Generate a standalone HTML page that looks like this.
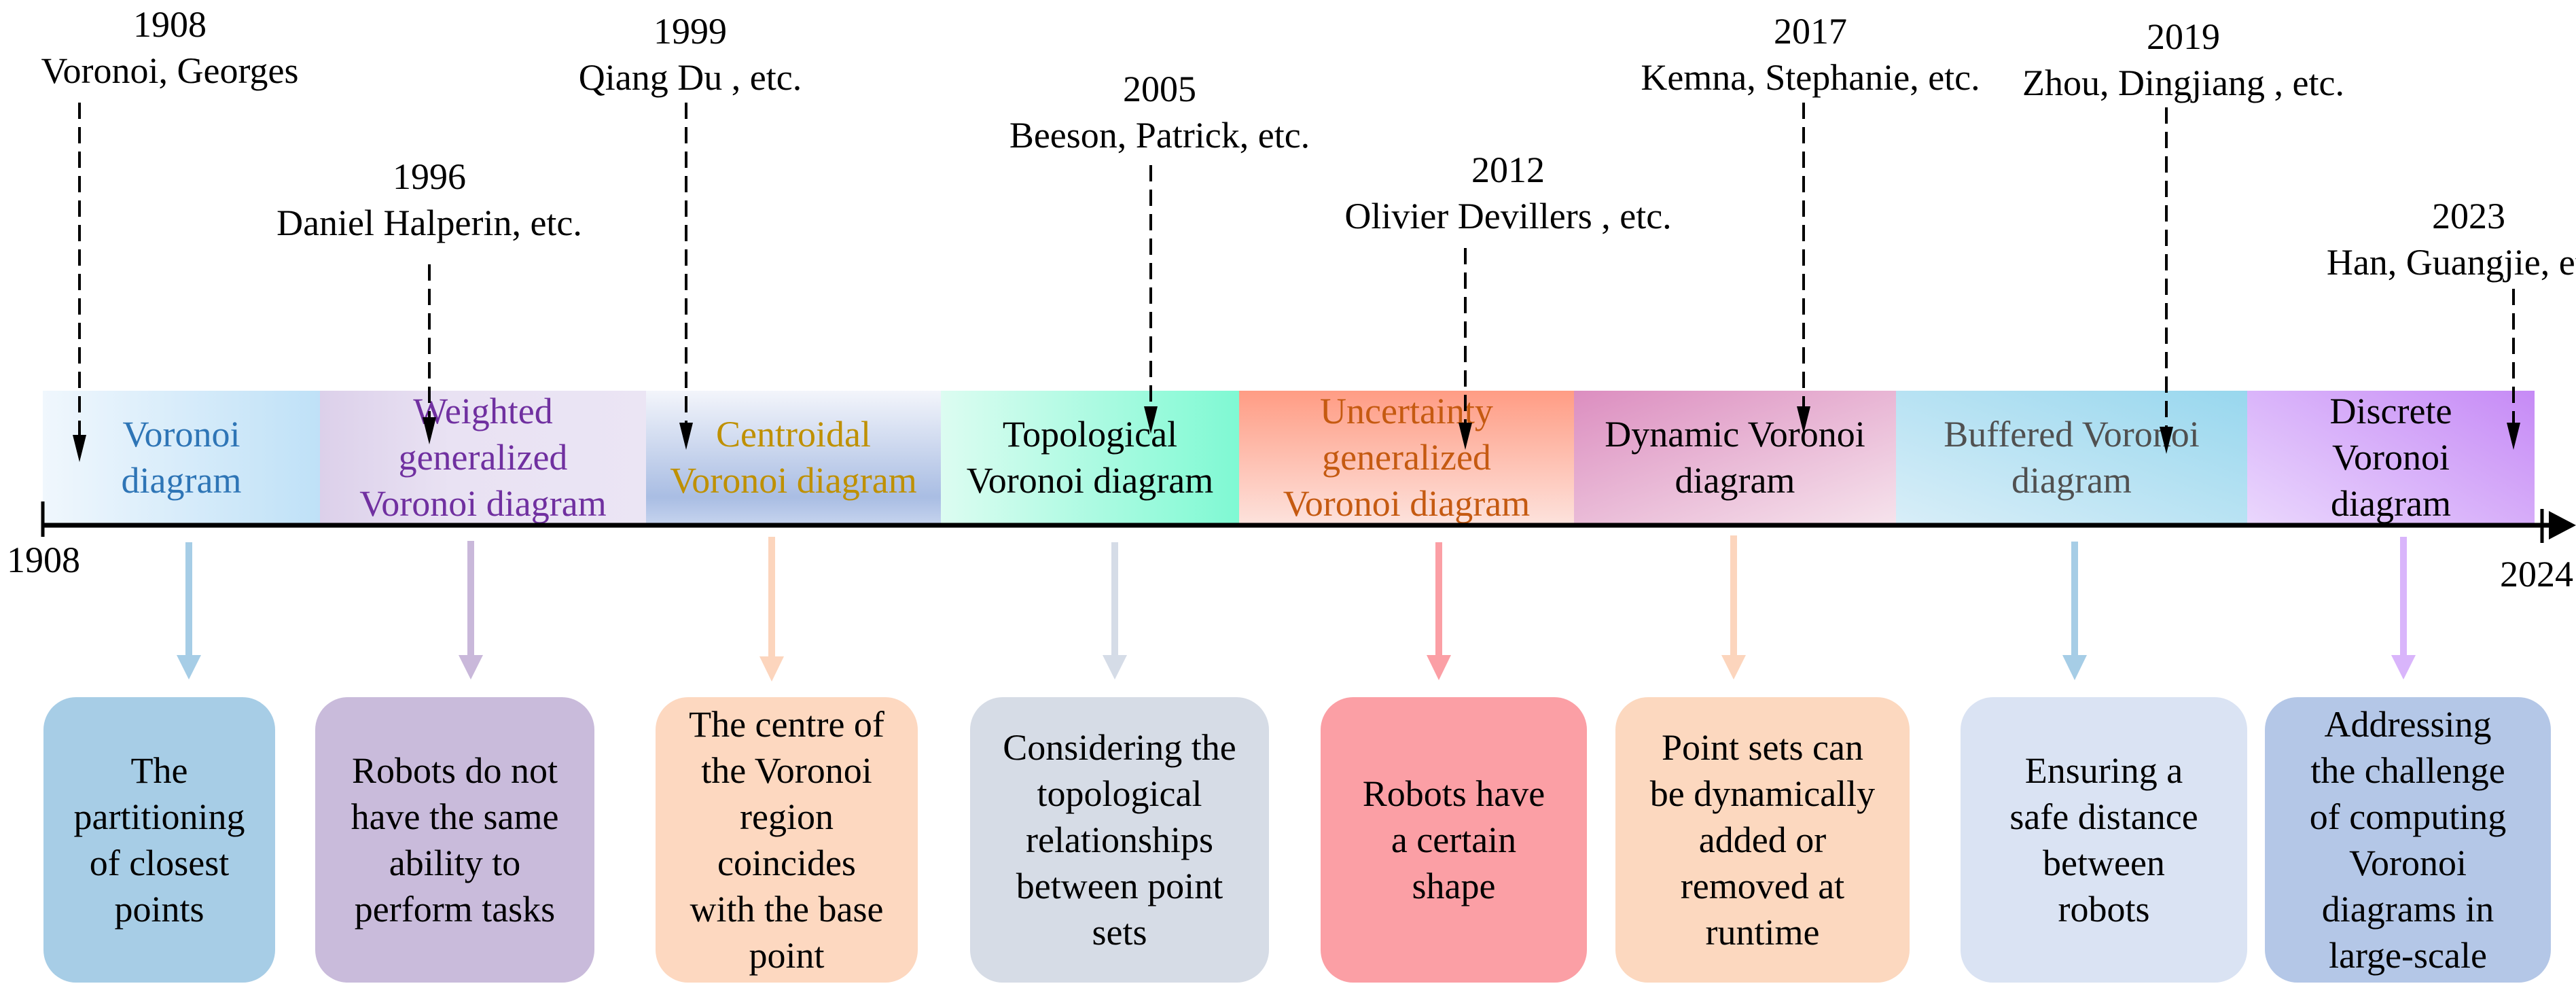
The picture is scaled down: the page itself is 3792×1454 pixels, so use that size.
<!DOCTYPE html>
<html><head><meta charset="utf-8"><style>
html,body{margin:0;padding:0;background:#fff}
body{width:3792px;height:1454px;position:relative;overflow:hidden;font-family:"Liberation Serif",serif;}
.t{position:absolute;font-size:54px;line-height:68px;text-align:center;white-space:nowrap;color:#000}
.band{position:absolute;top:575px;height:196px;display:flex;align-items:center;justify-content:center;text-align:center;font-size:54px;line-height:68px}
.box{position:absolute;top:1026px;height:420px;border-radius:48px;display:flex;align-items:center;justify-content:center;text-align:center;font-size:54px;line-height:68px;color:#000}
</style></head><body>
<div class="band" style="left:63px;width:408px;background:linear-gradient(90deg,#f0f7fd,#bfe1f7);color:#2e75b6">Voronoi<br>diagram</div>
<div class="band" style="left:471px;width:480px;background:linear-gradient(90deg,#dcd0ea,#e9e2f3 40%,#ebe5f4);color:#7030a0">Weighted<br>generalized<br>Voronoi diagram</div>
<div class="band" style="left:951px;width:434px;background:linear-gradient(180deg,#f3f5fb,#a9bde3 80%,#c5d3ee);color:#bf9000">Centroidal<br>Voronoi diagram</div>
<div class="band" style="left:1385px;width:439px;background:linear-gradient(90deg,#dcfcf1,#7ff9d3);color:#000">Topological<br>Voronoi diagram</div>
<div class="band" style="left:1824px;width:493px;background:linear-gradient(180deg,#ff9c84,#fde2dc);color:#c55a11">Uncertainty<br>generalized<br>Voronoi diagram</div>
<div class="band" style="left:2317px;width:474px;background:linear-gradient(160deg,#dc8ec0,#f6e3ec);color:#000">Dynamic Voronoi<br>diagram</div>
<div class="band" style="left:2791px;width:517px;background:linear-gradient(20deg,#d8eef8,#98d7ee);color:#505050">Buffered Voronoi<br>diagram</div>
<div class="band" style="left:3308px;width:423px;background:linear-gradient(30deg,#ead7fd,#c68af6);color:#000">Discrete<br>Voronoi<br>diagram</div>

<div class="t" style="left:50px;width:400px;top:2px">1908<br>Voronoi, Georges</div>
<div class="t" style="left:382px;width:500px;top:226px">1996<br>Daniel Halperin, etc.</div>
<div class="t" style="left:766px;width:500px;top:12px">1999<br>Qiang Du , etc.</div>
<div class="t" style="left:1407px;width:600px;top:97px">2005<br>Beeson, Patrick, etc.</div>
<div class="t" style="left:1920px;width:600px;top:216px">2012<br>Olivier Devillers , etc.</div>
<div class="t" style="left:2365px;width:600px;top:12px">2017<br>Kemna, Stephanie, etc.</div>
<div class="t" style="left:2914px;width:600px;top:20px">2019<br>Zhou, Dingjiang , etc.</div>
<div class="t" style="left:3384px;width:500px;top:284px">2023<br>Han, Guangjie, etc.</div>

<div class="t" style="left:10px;top:790px">1908</div>
<div class="t" style="left:3680px;top:811px">2024</div>

<svg width="3792" height="1454" style="position:absolute;left:0;top:0" xmlns="http://www.w3.org/2000/svg">
<g stroke="#000" stroke-width="7">
<line x1="63" y1="773" x2="3760" y2="773"/>
</g>
<polygon points="3792,773 3752,752 3752,794" fill="#000"/>
<line x1="63" y1="738" x2="63" y2="790" stroke="#000" stroke-width="5"/>
<line x1="3742" y1="749" x2="3742" y2="799" stroke="#000" stroke-width="5"/>
<g stroke="#000" stroke-width="4" stroke-dasharray="24,12" fill="none">
<line x1="117" y1="151" x2="117" y2="645"/>
<line x1="632" y1="389" x2="632" y2="620"/>
<line x1="1010" y1="151" x2="1010" y2="628"/>
<line x1="1694" y1="243" x2="1694" y2="604"/>
<line x1="2157" y1="365" x2="2157" y2="628"/>
<line x1="2655" y1="151" x2="2655" y2="604"/>
<line x1="3189" y1="158" x2="3189" y2="634"/>
<line x1="3700" y1="425" x2="3700" y2="628"/>
</g>
<g fill="#000">
<polygon points="107,640 127,640 117,680"/>
<polygon points="622,614 642,614 632,654"/>
<polygon points="1000,622 1020,622 1010,662"/>
<polygon points="1684,598 1704,598 1694,638"/>
<polygon points="2147,622 2167,622 2157,662"/>
<polygon points="2645,598 2665,598 2655,638"/>
<polygon points="3179,628 3199,628 3189,668"/>
<polygon points="3690,622 3710,622 3700,662"/>
</g>
<g stroke-width="10">
<line x1="278" y1="798" x2="278" y2="970" stroke="#a6cde6"/><polygon points="260,964 296,964 278,1000" fill="#a6cde6"/>
<line x1="693" y1="796" x2="693" y2="970" stroke="#c9b8da"/><polygon points="675,964 711,964 693,1000" fill="#c9b8da"/>
<line x1="1136" y1="790" x2="1136" y2="972" stroke="#fcd5bd"/><polygon points="1118,966 1154,966 1136,1003" fill="#fcd5bd"/>
<line x1="1641" y1="798" x2="1641" y2="970" stroke="#d5dce7"/><polygon points="1623,964 1659,964 1641,1000" fill="#d5dce7"/>
<line x1="2118" y1="798" x2="2118" y2="970" stroke="#fb9fa5"/><polygon points="2100,964 2136,964 2118,1001" fill="#fb9fa5"/>
<line x1="2552" y1="788" x2="2552" y2="970" stroke="#fcd5bd"/><polygon points="2534,964 2570,964 2552,1000" fill="#fcd5bd"/>
<line x1="3054" y1="797" x2="3054" y2="970" stroke="#a6cde6"/><polygon points="3036,964 3072,964 3054,1001" fill="#a6cde6"/>
<line x1="3538" y1="790" x2="3538" y2="970" stroke="#d9b5fb"/><polygon points="3520,964 3556,964 3538,1000" fill="#d9b5fb"/>
</g>
</svg>

<div class="box" style="left:64px;width:341px;background:#a7cde6">The<br>partitioning<br>of closest<br>points</div>
<div class="box" style="left:464px;width:411px;background:#c9bbdb">Robots do not<br>have the same<br>ability to<br>perform tasks</div>
<div class="box" style="left:965px;width:386px;background:#fdd8c0">The centre of<br>the Voronoi<br>region<br>coincides<br>with the base<br>point</div>
<div class="box" style="left:1428px;width:440px;background:#d6dce6">Considering the<br>topological<br>relationships<br>between point<br>sets</div>
<div class="box" style="left:1944px;width:392px;background:#fb9fa5">Robots have<br>a certain<br>shape</div>
<div class="box" style="left:2378px;width:433px;background:#fcd8bf">Point sets can<br>be dynamically<br>added or<br>removed at<br>runtime</div>
<div class="box" style="left:2886px;width:422px;background:#dae3f3">Ensuring a<br>safe distance<br>between<br>robots</div>
<div class="box" style="left:3334px;width:421px;background:#b4c7e7">Addressing<br>the challenge<br>of computing<br>Voronoi<br>diagrams in<br>large-scale</div>
</body></html>
